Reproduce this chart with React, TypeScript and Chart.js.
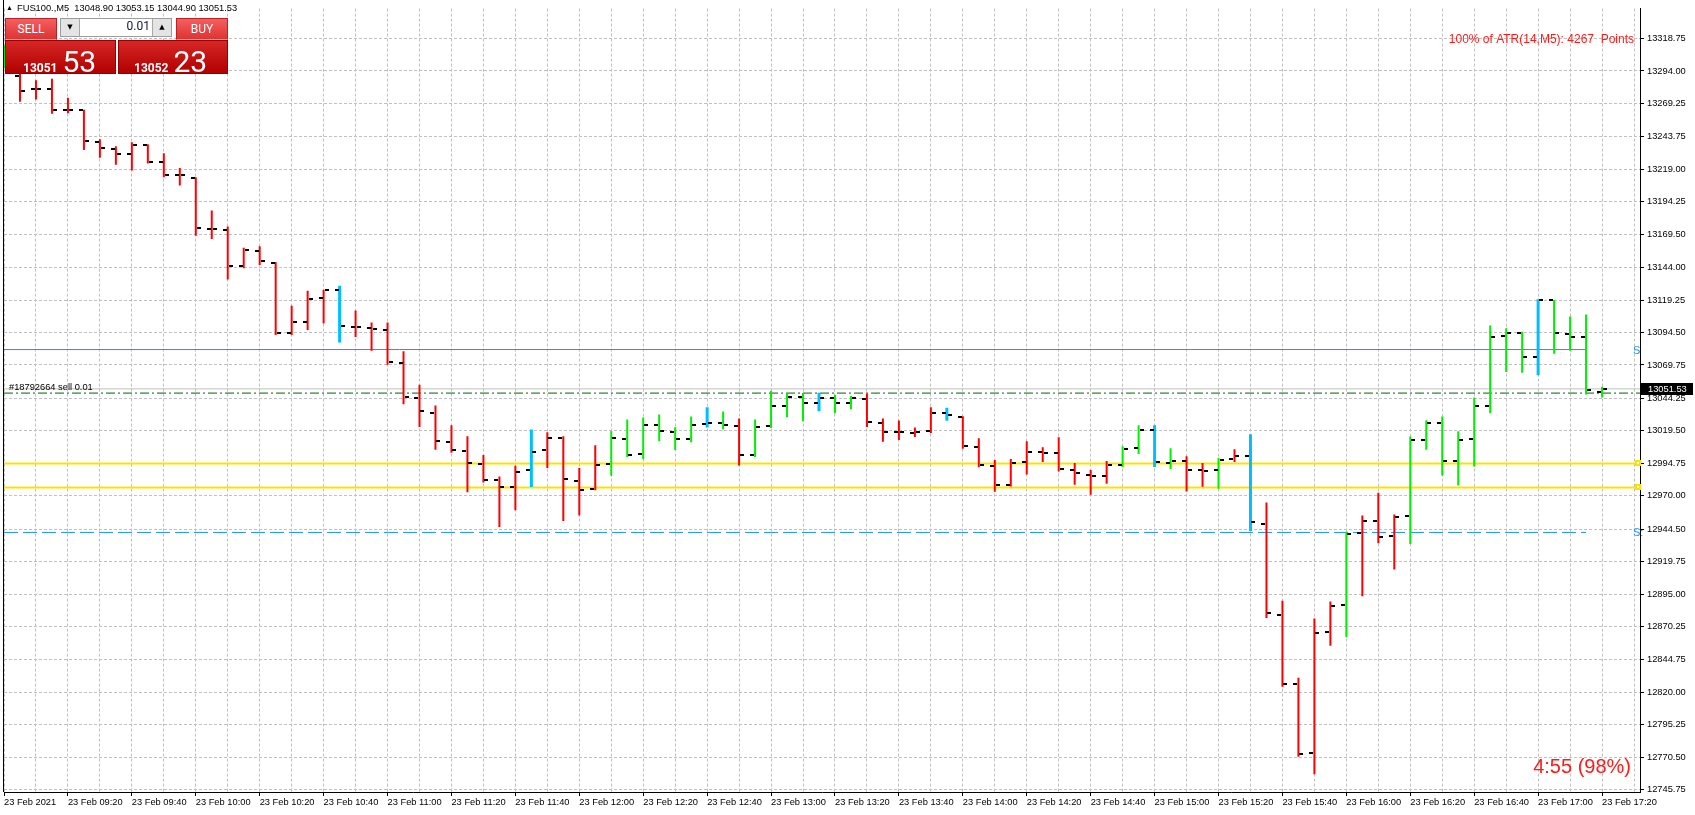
import React, { useEffect, useRef } from 'react';
import { Chart, registerables } from 'chart.js';

Chart.register(...registerables);

// ---------- DATA (M5 bars, FUS100, 23 Feb 2021, first bar 09:00) ----------
const opens = [
  13300,
  13290, 13280.1, 13280.6, 13264.3, 13264.3, 13239.6, 13234.6, 13230.5, 13237.6, 13224.8,
  13214.9, 13212.4, 13173.4, 13172.7, 13145.5, 13156.6, 13147.7, 13093.9, 13102.4, 13120.6,
  13126.6, 13098.7, 13097.9, 13096.4, 13071.5, 13044.3, 13033.0, 13011.1, 13004.3, 12994.5,
  12982.1, 12976.3, 12989.7, 13004.8, 13013.8, 12981.6, 12975.3, 12994.2, 13013.1, 13001.8,
  13023.6, 13018.4, 13013.1, 13024.4, 13025.2, 13022.9, 13001.0, 13022.9, 13038.8, 13045.0,
  13040.5, 13044.3, 13040.5, 13043.5, 13025.4, 13018.6, 13017.9, 13019.1, 13033.0, 13030.0,
  13007.3, 12993.0, 12978.0, 12995.7, 13003.3, 13002.5, 12989.7, 12985.9, 12985.1, 12993.5,
  13006.3, 13019.9, 12995.0, 12996.5, 12989.7, 12989.7, 12998.0, 13000.2, 12948.4, 12878.9,
  12826.6, 12774.0, 12865.8, 12886.5, 12941.3, 12950.4, 12939.1, 12954.2, 13012.7, 13025.4,
  12996.5, 13013.3, 13038.3, 13091.9, 13094.1, 13076.0, 13119.1, 13093.4, 13091.1, 13048.90,
];
const highs = [
  13313.5,
  13292, 13287, 13288, 13273.6, 13264.5, 13241.9, 13236.6, 13239.6, 13238.2, 13231.3,
  13220.0, 13212.9, 13187.5, 13175.4, 13159.1, 13160.3, 13148.2, 13115.0, 13126.3, 13127.1,
  13130.1, 13111.2, 13102.2, 13102.2, 13080.3, 13054.6, 13038.8, 13023.7, 13015.3, 13001.0,
  12984.6, 12992.9, 13020.6, 13018.4, 13015.4, 12991.2, 13008.5, 13019.4, 13028.2, 13029.7,
  13032.0, 13022.2, 13030.4, 13037.5, 13034.2, 13028.9, 13028.2, 13050.1, 13048.3, 13048.3,
  13048.6, 13047.1, 13046.1, 13047.8, 13028.9, 13027.4, 13022.1, 13037.5, 13037.2, 13030.7,
  13013.8, 12997.2, 12998.0, 13011.6, 13007.0, 13014.6, 12995.0, 12989.7, 12996.5, 13007.8,
  13023.7, 13023.7, 13006.3, 13000.2, 12995.0, 12998.7, 13005.5, 13016.9, 12964.8, 12889.8,
  12831.1, 12876.4, 12889.3, 12942.6, 12954.9, 12972.3, 12955.7, 13015.2, 13027.5, 13030.4,
  13019.1, 13045.0, 13099.9, 13097.7, 13095.1, 13119.8, 13119.3, 13106.7, 13108.2, 13053.15,
];
const lows = [
  13296.3,
  13270.6, 13272.3, 13261.3, 13261.8, 13233.8, 13227.8, 13222.5, 13218.0, 13223.5, 13212.9,
  13206.6, 13168.4, 13165.9, 13134.9, 13143.5, 13146.0, 13092.6, 13092.6, 13096.4, 13101.4,
  13086.8, 13091.1, 13080.5, 13070.0, 13039.8, 13022.4, 13005.0, 13002.8, 12972.6, 12980.1,
  12946.1, 12959.0, 12976.6, 12991.2, 12950.7, 12955.0, 12974.1, 12985.2, 12999.5, 12998.0,
  13011.6, 13004.8, 13010.8, 13022.1, 13020.6, 12993.0, 12999.5, 13021.6, 13029.9, 13026.9,
  13034.5, 13033.0, 13036.0, 13022.4, 13011.1, 13012.6, 13014.8, 13017.9, 13027.2, 13005.8,
  12991.7, 12973.0, 12977.1, 12986.1, 12995.7, 12988.4, 12978.3, 12970.8, 12979.1, 12991.9,
  13001.8, 12991.9, 12990.4, 12973.3, 12976.8, 12975.3, 12995.7, 12943.1, 12876.7, 12824.3,
  12770.9, 12757.6, 12855.5, 12862.1, 12893.3, 12933.8, 12913.7, 12933.1, 13005.0, 12985.4,
  12977.8, 12992.2, 13033.0, 13064.4, 13063.9, 13061.9, 13078.3, 13080.5, 13047.3, 13044.90,
];
const closes = [
  13305,
  13279.1, 13280.4, 13264.3, 13264.3, 13240.4, 13235.3, 13230.5, 13237.9, 13224.8, 13214.9,
  13214.4, 13174.2, 13173.2, 13145.5, 13157.8, 13149.3, 13093.9, 13102.4, 13119.8, 13126.6,
  13099.2, 13098.7, 13097.2, 13072.2, 13045.1, 13034.5, 13011.8, 13005.0, 12995.2, 12982.1,
  12976.3, 12988.2, 13003.3, 13013.8, 12982.9, 12974.6, 12993.4, 13013.8, 13001.0, 13023.6,
  13019.1, 13013.1, 13023.6, 13025.2, 13023.6, 13001.0, 13022.1, 13038.8, 13045.0, 13040.5,
  13044.3, 13040.5, 13044.3, 13026.2, 13018.6, 13018.6, 13018.6, 13033.0, 13031.5, 13008.1,
  12993.7, 12978.0, 12995.2, 13003.3, 13002.5, 12990.4, 12987.4, 12985.1, 12993.5, 13005.5,
  13019.9, 12995.7, 12996.5, 12989.7, 12988.9, 12997.2, 13000.2, 12949.6, 12880.2, 12826.6,
  12773.2, 12865.1, 12885.7, 12940.8, 12950.4, 12938.3, 12953.4, 13012.7, 13025.4, 12996.5,
  13012.6, 13038.3, 13091.1, 13094.1, 13076.0, 13119.1, 13094.1, 13091.1, 13050.3, 13051.53,
];
// indicator state per bar: 1 = up (green), -1 = down (red), 0 = neutral (blue)
const signal = [
  1,
  -1, -1, -1, -1, -1, -1, -1, -1, -1, -1,
  -1, -1, -1, -1, -1, -1, -1, -1, -1, -1,
  0, -1, -1, -1, -1, -1, -1, -1, -1, -1,
  -1, -1, 0, -1, -1, -1, -1, 1, 1, 1,
  1, 1, 1, 0, 1, -1, 1, 1, 1, 1,
  0, 1, 1, -1, -1, -1, -1, -1, 0, -1,
  -1, -1, -1, -1, -1, -1, -1, -1, -1, 1,
  1, 0, 1, -1, -1, 1, -1, 0, -1, -1,
  -1, -1, -1, 1, -1, -1, -1, 1, 1, 1,
  1, 1, 1, 1, 1, 0, 1, 1, 1, 1,
];

const timeLabels = [
  '23 Feb 2021', '23 Feb 09:20', '23 Feb 09:40', '23 Feb 10:00', '23 Feb 10:20', '23 Feb 10:40',
  '23 Feb 11:00', '23 Feb 11:20', '23 Feb 11:40', '23 Feb 12:00', '23 Feb 12:20', '23 Feb 12:40',
  '23 Feb 13:00', '23 Feb 13:20', '23 Feb 13:40', '23 Feb 14:00', '23 Feb 14:20', '23 Feb 14:40',
  '23 Feb 15:00', '23 Feb 15:20', '23 Feb 15:40', '23 Feb 16:00', '23 Feb 16:20', '23 Feb 16:40',
  '23 Feb 17:00', '23 Feb 17:20',
];
const timeLabelBars = [
  0, 4, 8, 12, 16, 20, 24, 28, 32, 36, 40, 44, 48, 52, 56, 60, 64, 68, 72, 76, 80, 84, 88, 92, 96, 100,
];
const priceTicks = [
  13318.75, 13294.0, 13269.25, 13243.75, 13219.0, 13194.25, 13169.5, 13144.0, 13119.25, 13094.5,
  13069.75, 13044.25, 13019.5, 12994.75, 12970.0, 12944.5, 12919.75, 12895.0, 12870.25, 12844.75,
  12820.0, 12795.25, 12770.5, 12745.75,
];

const resistanceLevel = 13081.5;
const supportLevel = 12942.0;
const zoneUpper = 12994.6;
const zoneLower = 12976.3;
const bidPrice = 13051.53;
const orderPrice = 13048.3;
const levelEndBar = 99;

const symbolTitle = 'FUS100.,M5  13048.90 13053.15 13044.90 13051.53';
const orderText = '#18792664 sell 0.01';
const atrText = '100% of ATR(14,M5): 4267  Points';
const timerText = '4:55 (98%)';

const X_MIN = 0;
const X_MAX = 102.375;
const Y_MIN = 12744.0;
const Y_MAX = 13341.6;

const FONT = '"Liberation Sans", Arial, sans-serif';

function makeMark(side: 'open' | 'close'): HTMLCanvasElement {
  const c = document.createElement('canvas');
  c.width = 12;
  c.height = 2;
  const g = c.getContext('2d')!;
  g.fillStyle = '#000';
  g.fillRect(side === 'open' ? 1 : 7, 0, 4, 2);
  return c;
}

const overlayPlugin = {
  id: 'mt4overlay',
  beforeDatasetsDraw(chart: any) {
    chart.ctx.imageSmoothingEnabled = false;
  },
  afterDatasetsDraw(chart: any) {
    chart.ctx.imageSmoothingEnabled = true;
  },
  afterDraw(chart: any) {
    const { ctx, chartArea, scales } = chart;
    const ys = scales.y;
    ctx.save();
    // left frame
    ctx.strokeStyle = '#000';
    ctx.lineWidth = 1;
    ctx.beginPath();
    ctx.moveTo(chartArea.left - 0.5, 0);
    ctx.lineTo(chartArea.left - 0.5, chartArea.bottom);
    ctx.stroke();

    // title
    ctx.fillStyle = '#000';
    ctx.textBaseline = 'middle';
    ctx.textAlign = 'left';
    ctx.font = `7px ${FONT}`;
    ctx.fillText('▲', 6, 8.5);
    ctx.font = `9.3px ${FONT}`;
    ctx.fillText(symbolTitle, 17, 8.5);

    // order label
    ctx.textBaseline = 'alphabetic';
    ctx.fillText(orderText, 9, ys.getPixelForValue(orderPrice) - 3);

    // S labels
    ctx.fillStyle = '#1E90FF';
    ctx.font = `11px ${FONT}`;
    ctx.textBaseline = 'middle';
    ctx.fillText('S', chartArea.right - 7, ys.getPixelForValue(resistanceLevel) + 1);
    ctx.fillText('S:', chartArea.right - 7, ys.getPixelForValue(supportLevel) + 1);

    // ATR text
    ctx.fillStyle = '#FF1A1A';
    ctx.font = `12px ${FONT}`;
    ctx.textAlign = 'right';
    ctx.fillText(atrText, chartArea.right - 6, 40);

    // timer
    ctx.font = `20px ${FONT}`;
    ctx.fillText(timerText, chartArea.right - 9, 767);

    // zone handles
    [zoneUpper, zoneLower].forEach((v) => {
      const py = Math.round(ys.getPixelForValue(v));
      ctx.fillStyle = '#FFE100';
      ctx.fillRect(chartArea.right - 5, py - 3, 6, 6);
      ctx.fillStyle = '#FFFFFF';
      ctx.fillRect(chartArea.right - 3, py - 1, 2, 2);
    });

    // bid price box
    const bp = ys.getPixelForValue(bidPrice);
    ctx.fillStyle = '#000';
    ctx.fillRect(chartArea.right + 1, Math.round(bp) - 6, 52, 12);
    ctx.fillStyle = '#fff';
    ctx.font = `9.3px ${FONT}`;
    ctx.textAlign = 'left';
    ctx.textBaseline = 'middle';
    ctx.fillText(bidPrice.toFixed(2), chartArea.right + 8, Math.round(bp) + 0.5);
    ctx.restore();
  },
};

function TradePanel() {
  const topBtn: React.CSSProperties = {
    position: 'absolute',
    top: 18,
    height: 22,
    width: 52,
    boxSizing: 'border-box',
    background: 'linear-gradient(#F65E5E, #DC3434)',
    border: '1px solid #B82222',
    borderBottom: '1px solid #F4A3A3',
    color: '#fff',
    font: '12px Roboto, sans-serif',
    textAlign: 'center',
    lineHeight: '20px',
  };
  const priceBox: React.CSSProperties = {
    position: 'absolute',
    top: 40,
    height: 34,
    boxSizing: 'border-box',
    background: 'linear-gradient(#D62626, #B20000)',
    border: '1px solid #980000',
    color: '#fff',
  };
  const inner: React.CSSProperties = {
    position: 'absolute',
    top: 3,
    display: 'flex',
    alignItems: 'baseline',
    lineHeight: 1,
  };
  const small: React.CSSProperties = { font: 'bold 12px Roboto, sans-serif' };
  const big: React.CSSProperties = { font: '30px Roboto, sans-serif', marginLeft: 5 };
  const arrowBtn: React.CSSProperties = {
    position: 'absolute',
    top: 0,
    width: 18,
    height: 17,
    background: '#E4E4E4',
    color: '#000',
    font: '7px "DejaVu Sans", sans-serif',
    textAlign: 'center',
    lineHeight: '17px',
  };
  return (
    <>
      <div style={{ ...topBtn, left: 5 }}>SELL</div>
      <div
        style={{
          position: 'absolute',
          left: 60,
          top: 18,
          width: 112,
          height: 19,
          boxSizing: 'border-box',
          border: '1px solid #9C9C9C',
          background: '#fff',
        }}
      >
        <div style={{ ...arrowBtn, left: 0, borderRight: '1px solid #A8A8A8' }}>▼</div>
        <div
          style={{
            position: 'absolute',
            right: 21,
            top: 0,
            lineHeight: '17px',
            font: '12px Roboto, sans-serif',
            color: '#101040',
          }}
        >
          0.01
        </div>
        <div style={{ ...arrowBtn, right: 0, borderLeft: '1px solid #A8A8A8' }}>▲</div>
      </div>
      <div style={{ ...topBtn, left: 176 }}>BUY</div>
      <div style={{ ...priceBox, left: 5, width: 111 }}>
        <div style={{ ...inner, left: 17 }}>
          <span style={small}>13051</span>
          <span style={big}>53</span>
        </div>
      </div>
      <div style={{ ...priceBox, left: 118, width: 110 }}>
        <div style={{ ...inner, left: 15 }}>
          <span style={small}>13052</span>
          <span style={big}>23</span>
        </div>
      </div>
    </>
  );
}

export default function App() {
  const ref = useRef<HTMLCanvasElement>(null);

  useEffect(() => {
    document.body.style.margin = '0';
    const canvas = ref.current;
    if (!canvas) return;
    const openMark = makeMark('open');
    const closeMark = makeMark('close');
    const barIdx = opens.map((_, i) => i);
    const rangeFor = (s: number) =>
      barIdx.filter((i) => signal[i] === s).map((i) => ({ x: i, y: [lows[i], highs[i]] }));
    const levelLine = (y: number, x0: number, x1: number, color: string, width: number, dash: number[]) => ({
      type: 'line',
      data: [
        { x: x0, y },
        { x: x1, y },
      ],
      borderColor: color,
      borderWidth: width,
      borderDash: dash,
      pointRadius: 0,
      showLine: true,
      order: 3,
    });
    const gridBars = Array.from({ length: 52 }, (_, i) => i * 2);

    const chart = new Chart(canvas, {
      type: 'bar',
      data: {
        datasets: [
          {
            type: 'line',
            data: barIdx.map((i) => ({ x: i, y: opens[i] })),
            showLine: false,
            pointStyle: openMark,
            pointRadius: 3,
            pointHoverRadius: 3,
            order: 0,
          },
          {
            type: 'line',
            data: barIdx.map((i) => ({ x: i, y: closes[i] })),
            showLine: false,
            pointStyle: closeMark,
            pointRadius: 3,
            pointHoverRadius: 3,
            order: 0,
          },
          {
            type: 'bar',
            data: rangeFor(-1),
            backgroundColor: '#FF0000',
            grouped: false,
            maxBarThickness: 2,
            borderWidth: 0,
            inflateAmount: 0,
            order: 1,
          },
          {
            type: 'bar',
            data: rangeFor(1),
            backgroundColor: '#00F000',
            grouped: false,
            maxBarThickness: 2,
            borderWidth: 0,
            inflateAmount: 0,
            order: 1,
          },
          {
            type: 'bar',
            data: rangeFor(0),
            backgroundColor: '#00BFFF',
            grouped: false,
            maxBarThickness: 3,
            borderWidth: 0,
            inflateAmount: 0,
            order: 1,
          },
          levelLine(bidPrice, X_MIN, X_MAX, '#C0C0C0', 1, []),
          levelLine(orderPrice, X_MIN, X_MAX, '#006400', 1, [9, 3, 2, 3]),
          levelLine(resistanceLevel, X_MIN, levelEndBar, '#1E90FF', 1, []),
          levelLine(supportLevel, X_MIN, levelEndBar, '#1E90FF', 1, [14, 5]),
          levelLine(zoneUpper, X_MIN, X_MAX, '#FFE100', 2, []),
          levelLine(zoneLower, X_MIN, X_MAX, '#FFE100', 2, []),
        ] as any,
      },
      options: {
        animation: false,
        responsive: false,
        devicePixelRatio: 1,
        events: [],
        layout: { padding: { left: 2, top: 0, right: 0, bottom: 0 } },
        plugins: { legend: { display: false }, tooltip: { enabled: false } },
        scales: {
          x: {
            type: 'linear',
            min: X_MIN,
            max: X_MAX,
            offset: false,
            afterFit: (s: any) => {
              s.height = 23;
            },
            afterBuildTicks: (s: any) => {
              s.ticks = gridBars.map((v) => ({ value: v }));
            },
            grid: {
              offset: false,
              color: '#C0C0C0',
              lineWidth: 1,
              tickLength: 4,
              tickColor: (c: any) =>
                c.tick && timeLabelBars.indexOf(c.tick.value) >= 0 ? '#000' : 'rgba(0,0,0,0)',
            },
            border: { display: true, color: '#000', width: 1, dash: [3, 2] },
            ticks: {
              autoSkip: false,
              maxRotation: 0,
              minRotation: 0,
              align: 'start',
              padding: 1,
              color: '#000',
              font: { family: FONT, size: 9.3 },
              callback: (v: any) => {
                const k = timeLabelBars.indexOf(Number(v));
                return k >= 0 ? timeLabels[k] : '';
              },
            },
          },
          y: {
            type: 'linear',
            position: 'right',
            min: Y_MIN,
            max: Y_MAX,
            afterFit: (s: any) => {
              s.width = 55;
            },
            afterBuildTicks: (s: any) => {
              s.ticks = priceTicks.map((v) => ({ value: v }));
            },
            grid: {
              color: '#C0C0C0',
              lineWidth: 1,
              tickLength: 4,
              tickColor: '#000',
            },
            border: { display: true, color: '#000', width: 1, dash: [3, 2] },
            ticks: {
              autoSkip: false,
              padding: 3,
              color: '#000',
              font: { family: FONT, size: 9.3 },
              callback: (v: any) => Number(v).toFixed(2),
            },
          },
        },
      } as any,
      plugins: [overlayPlugin],
    });
    return () => chart.destroy();
  }, []);

  return (
    <div
      style={{
        position: 'absolute',
        left: 0,
        top: 0,
        width: 1695,
        height: 815,
        overflow: 'hidden',
        background: '#fff',
      }}
    >
      <canvas ref={ref} width={1695} height={815} style={{ display: 'block' }} />
      <TradePanel />
    </div>
  );
}
